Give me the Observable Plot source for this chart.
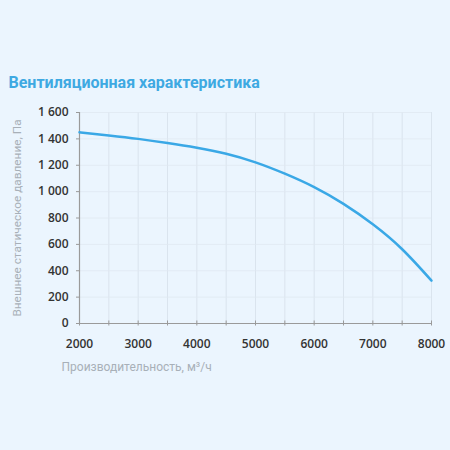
<!DOCTYPE html>
<html>
<head>
<meta charset="utf-8">
<script src="https://cdn.jsdelivr.net/npm/d3@7"></script>
<script src="https://cdn.jsdelivr.net/npm/@observablehq/plot@0.6"></script>
<style>
  html, body { margin: 0; padding: 0; background: #ebf5fe; }
  #chart { width: 450px; height: 450px; background: #ebf5fe; }
</style>
</head>
<body>
<div id="chart"></div>
<script>
const title = "Вентиляционная характеристика";
const xLabel = "Производительность, м³/ч";
const yLabel = "Внешнее статическое давление, Па";

const flow = [2000, 2500, 3000, 3500, 4000, 4500, 5000, 5500, 6000, 6500, 7000, 7500, 8000];
const pressure = [1450, 1426, 1400, 1369, 1333, 1287, 1222, 1136, 1034, 907, 752, 563, 325];

const xTicksMajor = [2000, 3000, 4000, 5000, 6000, 7000, 8000];
const xTicksMinor = [2000, 2500, 3000, 3500, 4000, 4500, 5000, 5500, 6000, 6500, 7000, 7500, 8000];
const yTicks = [0, 200, 400, 600, 800, 1000, 1200, 1400, 1600];

const data = flow.map((f, i) => ({flow: f, pressure: pressure[i]}));
const ru = d3.formatLocale({decimal: ",", thousands: "\u00a0", grouping: [3], currency: ["", ""]});
const fmtY = ru.format(",d");

const plot = Plot.plot({
  width: 450,
  height: 450,
  marginLeft: 79,
  marginRight: 19,
  marginTop: 112,
  marginBottom: 127,
  style: {background: "transparent", fontFamily: "'Open Sans', sans-serif"},
  x: {domain: [2000, 8000]},
  y: {domain: [0, 1600]},
  marks: [
    Plot.gridX(xTicksMinor.slice(1), {stroke: "#d5e0ea", strokeOpacity: 1, strokeWidth: 0.8}),
    Plot.gridY(yTicks.slice(1), {stroke: "#dfe8f1", strokeOpacity: 1, strokeWidth: 0.8}),
    Plot.ruleX([2000], {stroke: "#9a9a9a", strokeWidth: 1.2}),
    Plot.ruleY([0], {stroke: "#9a9a9a", strokeWidth: 1.2}),
    Plot.axisY({ticks: yTicks, tickSize: 3, tickPadding: 8, tickFormat: fmtY, stroke: "#9a9a9a",
      fill: "#333", fontSize: 12, fontWeight: 600, label: null}),
    Plot.axisX({ticks: xTicksMinor, tickSize: 5, dy: -2.5, tickFormat: () => "", stroke: "#9a9a9a", label: null}),
    Plot.axisX({ticks: xTicksMajor, tickSize: 0, tickPadding: 16, tickFormat: d => String(d),
      fill: "#333", fontSize: 12, fontWeight: 600, label: null}),
    Plot.line(data, {x: "flow", y: "pressure", curve: "natural", stroke: "#3aa8e6", strokeWidth: 2.5}),
    Plot.text([yLabel], {frameAnchor: "left", rotate: -90, dx: -62, textAnchor: "middle", text: d => d,
      fill: "#a8b0b8", fontSize: 11.8, fontFamily: "Roboto, sans-serif"}),
    Plot.text([xLabel], {frameAnchor: "bottom-left", dx: -18, dy: 47, textAnchor: "start", text: d => d,
      fill: "#a8b0b8", fontSize: 12, fontFamily: "Roboto, sans-serif"}),
    Plot.text([title], {frameAnchor: "top-left", dx: -71, dy: -25, lineAnchor: "bottom", textAnchor: "start", text: d => d,
      fill: "#3ea9e2", fontSize: 16, fontWeight: "bold", fontFamily: "Roboto, sans-serif"})
  ]
});
document.getElementById("chart").appendChild(plot);
</script>
</body>
</html>
